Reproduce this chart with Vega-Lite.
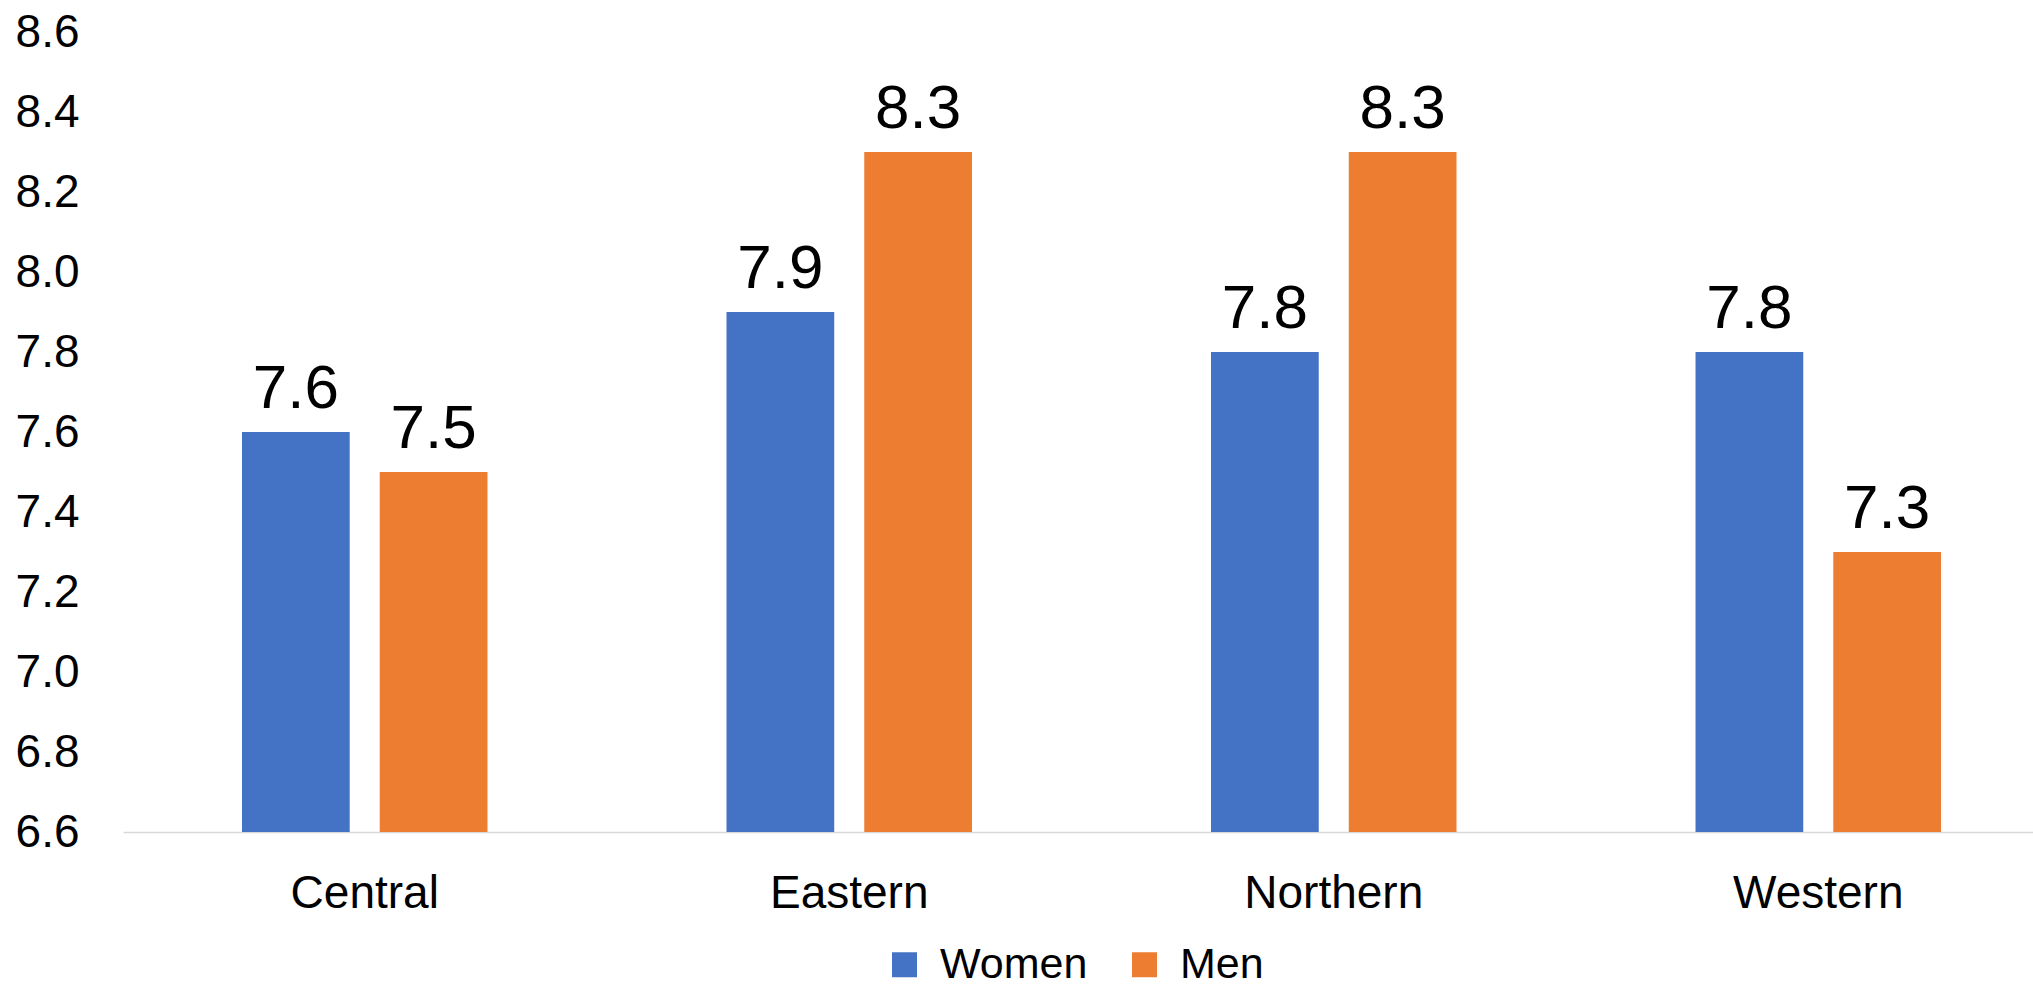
{
  "$schema": "https://vega.github.io/schema/vega-lite/v6.json",
  "autosize": {"type": "none"},
  "width": 1910,
  "height": 800,
  "padding": {"left": 123, "top": 32, "right": 0, "bottom": 156},
  "background": "white",
  "config": {
    "view": {"stroke": null},
    "font": "Liberation Sans",
    "axis": {"labelFont": "Liberation Sans", "labelColor": "#000000"},
    "legend": {"labelFont": "Liberation Sans", "labelColor": "#000000"}
  },
  "data": {
    "values": [
      {"region": "Central", "sex": "Women", "score": 7.6},
      {"region": "Central", "sex": "Men", "score": 7.5},
      {"region": "Eastern", "sex": "Women", "score": 7.9},
      {"region": "Eastern", "sex": "Men", "score": 8.3},
      {"region": "Northern", "sex": "Women", "score": 7.8},
      {"region": "Northern", "sex": "Men", "score": 8.3},
      {"region": "Western", "sex": "Women", "score": 7.8},
      {"region": "Western", "sex": "Men", "score": 7.3}
    ]
  },
  "encoding": {
    "x": {
      "field": "region",
      "type": "nominal",
      "sort": ["Central", "Eastern", "Northern", "Western"],
      "scale": {"paddingInner": 0.4933, "paddingOuter": 0.2177, "align": 0.564},
      "axis": {
        "title": null,
        "labelAngle": 0,
        "domainColor": "#d9d9d9",
        "domainWidth": 1.5,
        "ticks": false,
        "tickSize": 0,
        "labelPadding": 75,
        "labelBaseline": "alphabetic",
        "labelFontSize": 46,
        "labelOverlap": false
      }
    },
    "xOffset": {
      "field": "sex",
      "type": "nominal",
      "sort": ["Women", "Men"],
      "scale": {"paddingInner": 0.218, "paddingOuter": 0}
    },
    "y": {
      "field": "score",
      "type": "quantitative",
      "scale": {"domain": [6.6, 8.6], "zero": false, "nice": false},
      "axis": {
        "title": null,
        "values": [6.6, 6.8, 7.0, 7.2, 7.4, 7.6, 7.8, 8.0, 8.2, 8.4, 8.6],
        "format": ".1f",
        "grid": false,
        "domain": false,
        "ticks": false,
        "tickSize": 0,
        "labelPadding": 44,
        "labelFontSize": 46,
        "labelOverlap": false
      }
    }
  },
  "layer": [
    {
      "mark": {"type": "bar", "clip": true},
      "encoding": {
        "color": {
          "field": "sex",
          "type": "nominal",
          "scale": {"domain": ["Women", "Men"], "range": ["#4472C4", "#ED7D31"]},
          "legend": {
            "title": null,
            "orient": "none",
            "legendX": 760,
            "legendY": 911,
            "direction": "horizontal",
            "symbolType": "square",
            "symbolSize": 625,
            "symbolStrokeWidth": 0,
            "labelFontSize": 43,
            "labelOffset": 14,
            "labelLimit": 400,
            "columnPadding": 35,
            "padding": 0
          }
        }
      }
    },
    {
      "mark": {"type": "text", "baseline": "alphabetic", "dy": -24, "fontSize": 62, "color": "#000000"},
      "encoding": {"text": {"field": "score", "type": "quantitative", "format": ".1f"}}
    }
  ]
}
